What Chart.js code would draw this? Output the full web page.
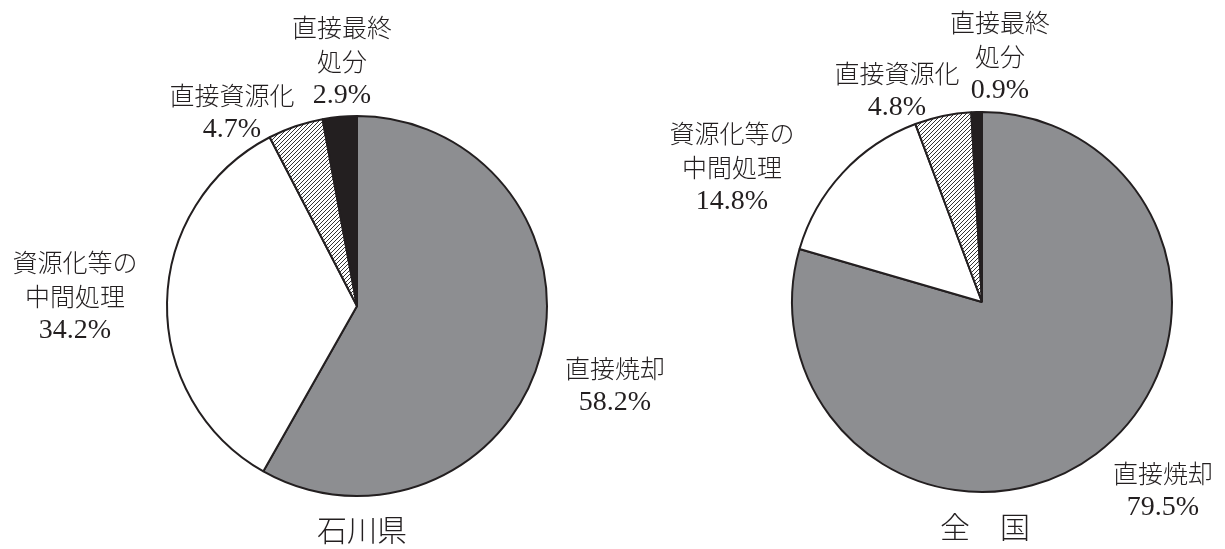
<!DOCTYPE html>
<html>
<head>
<meta charset="utf-8">
<script src="https://cdn.jsdelivr.net/npm/chart.js@4"></script>
<style>
  html, body { margin: 0; padding: 0; background: #fff; }
  #wrap { position: relative; width: 1225px; height: 549px; }
  canvas { position: absolute; left: 0; top: 0; }
</style>
</head>
<body>
<div id="wrap">
  <canvas id="pref" width="1225" height="549"></canvas>
  <canvas id="nation" width="1225" height="549"></canvas>
</div>
<script>
// categories (clockwise from 12 o'clock)
const categories = [
    ["直接焼却"],
    ["資源化等の", "中間処理"],
    ["直接資源化"],
    ["直接最終", "処分"],
];
const prefValues = [58.2, 34.2, 4.7, 2.9];
const nationValues = [79.5, 14.8, 4.8, 0.9];
const prefTitle = "石川県";
const nationTitle = "全　国";

const ink = "#231f20";
const jpFont = '"Noto Sans CJK JP", sans-serif';
const numFont = '"Liberation Serif", "DejaVu Serif", serif';

function hatchPattern() {
    const c = document.createElement("canvas");
    c.width = 4;
    c.height = 4;
    const g = c.getContext("2d");
    g.fillStyle = "#ffffff";
    g.fillRect(0, 0, 4, 4);
    g.strokeStyle = "#333333";
    g.lineWidth = 1;
    g.beginPath();
    g.moveTo(-1, 5);
    g.lineTo(5, -1);
    g.moveTo(-1, 1);
    g.lineTo(1, -1);
    g.moveTo(3, 5);
    g.lineTo(5, 3);
    g.stroke();
    return g.createPattern(c, "repeat");
}

// label text drawn next to the pie, offsets from the pie centre
const labelPlugin = {
    id: "pieLabels",
    afterDraw(chart, args, opts) {
        const ctx = chart.ctx;
        const arc = chart.getDatasetMeta(0).data[0];
        const cx = arc.x;
        const cy = arc.y;
        const values = chart.data.datasets[0].data;
        ctx.save();
        ctx.fillStyle = ink;
        ctx.textAlign = "center";
        ctx.textBaseline = "middle";
        categories.forEach((lines, i) => {
            const p = opts.anchors[i];
            lines.forEach((t, j) => {
                ctx.font = "300 25px " + jpFont;
                ctx.fillText(t, cx + p[0], cy + p[1] + j * opts.lineGap);
            });
            ctx.font = "28px " + numFont;
            ctx.fillText(values[i].toFixed(1) + "%", cx + p[0], cy + p[1] + lines.length * opts.lineGap + 1);
        });
        ctx.font = "300 30px " + jpFont;
        ctx.fillText(opts.title, cx + opts.titleAt[0], cy + opts.titleAt[1]);
        ctx.restore();
    },
};

function makePie(id, values, padding, pluginOpts) {
    const hatch = hatchPattern();
    return new Chart(document.getElementById(id), {
        type: "pie",
        data: {
            labels: categories.map((c) => c.join("")),
            datasets: [
                {
                    data: values,
                    backgroundColor: ["#8d8e91", "#ffffff", hatch, ink],
                    borderColor: ink,
                    borderWidth: 2,
                },
            ],
        },
        options: {
            responsive: false,
            animation: false,
            layout: { padding: padding },
            plugins: {
                legend: { display: false },
                tooltip: { enabled: false },
                pieLabels: pluginOpts,
            },
        },
        plugins: [labelPlugin],
    });
}

makePie("pref", prefValues,
    { left: 166, right: 677, top: 115, bottom: 52 },
    {
        anchors: [[258, 62], [-282, -44], [-125, -211], [-15, -279]],
        lineGap: 34,
        title: prefTitle,
        titleAt: [5, 224],
    });

makePie("nation", nationValues,
    { left: 791, right: 52, top: 111, bottom: 56 },
    {
        anchors: [[181, 171], [-250, -169], [-85, -229], [18, -280]],
        lineGap: 34,
        title: nationTitle,
        titleAt: [3, 225],
    });
</script>
</body>
</html>
